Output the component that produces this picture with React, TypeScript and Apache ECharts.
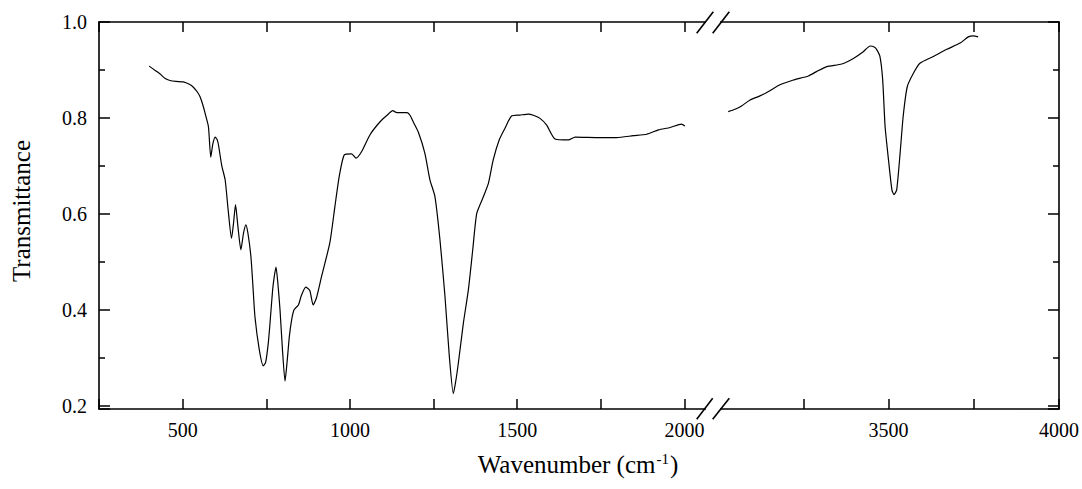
import React, { useEffect, useRef } from "react";
import * as echarts from "echarts";

// Left part of the spectrum (wavenumber, transmittance)
const LEFT_WN = [400, 420, 432, 448, 462, 480, 502, 520, 532, 545, 552, 560, 567, 577, 584, 590, 597, 603, 607, 617, 627, 636, 646, 652, 658, 665, 674, 682, 689, 695, 704, 710, 716, 729, 741, 748, 756, 762, 769, 774, 779, 784, 791, 798, 806, 812, 819, 826, 833, 846, 855, 868, 880, 890, 900, 915, 940, 955, 968, 983, 1005, 1018, 1035, 1060, 1090, 1110, 1128, 1140, 1150, 1171, 1180, 1189, 1204, 1224, 1239, 1254, 1269, 1284, 1297, 1309, 1316, 1324, 1339, 1354, 1367, 1379, 1399, 1414, 1428, 1446, 1463, 1483, 1508, 1533, 1550, 1568, 1588, 1613, 1653, 1673, 1747, 1797, 1847, 1887, 1922, 1957, 1991, 2001];
const LEFT_T = [0.908, 0.898, 0.892, 0.882, 0.878, 0.876, 0.875, 0.870, 0.864, 0.853, 0.844, 0.828, 0.81, 0.782, 0.718, 0.745, 0.76, 0.755, 0.744, 0.70, 0.671, 0.608, 0.549, 0.58, 0.619, 0.575, 0.525, 0.56, 0.577, 0.56, 0.511, 0.45, 0.386, 0.317, 0.283, 0.29, 0.331, 0.38, 0.442, 0.47, 0.489, 0.46, 0.40, 0.32, 0.251, 0.29, 0.345, 0.38, 0.40, 0.41, 0.43, 0.447, 0.44, 0.41, 0.425, 0.469, 0.54, 0.615, 0.678, 0.723, 0.725, 0.716, 0.73, 0.765, 0.792, 0.805, 0.815, 0.811, 0.811, 0.811, 0.805, 0.792, 0.771, 0.726, 0.671, 0.636, 0.546, 0.428, 0.303, 0.225, 0.25, 0.289, 0.372, 0.442, 0.525, 0.601, 0.636, 0.664, 0.712, 0.754, 0.778, 0.804, 0.806, 0.808, 0.805, 0.799, 0.785, 0.756, 0.754, 0.76, 0.759, 0.759, 0.763, 0.766, 0.775, 0.78, 0.787, 0.783];

// Right part of the spectrum
const RIGHT_WN = [3030, 3050, 3069, 3094, 3120, 3143, 3182, 3221, 3265, 3290, 3319, 3363, 3397, 3426, 3446, 3458, 3465, 3475, 3483, 3490, 3500, 3510, 3516, 3524, 3534, 3543, 3555, 3573, 3592, 3631, 3671, 3710, 3734, 3749, 3763];
const RIGHT_T = [0.813, 0.818, 0.825, 0.8375, 0.845, 0.853, 0.869, 0.879, 0.8875, 0.897, 0.907, 0.9125, 0.924, 0.938, 0.95, 0.948, 0.943, 0.928, 0.879, 0.782, 0.7125, 0.65, 0.64, 0.65, 0.726, 0.803, 0.865, 0.893, 0.914, 0.928, 0.943, 0.956, 0.969, 0.971, 0.969];

const LEFT_TICK_LABELS = [500, 1000, 1500, 2000];
const RIGHT_TICK_LABELS = [3500, 4000];
const Y_TICK_LABELS = [0.2, 0.4, 0.6, 0.8, 1.0];

const FONT = "Liberation Serif, Times New Roman, serif";

export default function App() {
  const ref = useRef<HTMLDivElement>(null);

  useEffect(() => {
    if (!ref.current) return;
    const chart = echarts.init(ref.current, undefined, { renderer: "svg" });

    const zip = (xs: number[], ys: number[]) => xs.map((x, i) => [x, ys[i]]);

    const lineStyle = { color: "#000", width: 1.6 };
    const tickStyle = { color: "#000", width: 1.5 };

    const xBase = (gridIndex: number, min: number, max: number, labels: number[], position: "top" | "bottom") => ({
      type: "value" as const,
      gridIndex,
      position,
      min,
      max,
      interval: 250,
      axisLine: { show: true, onZero: false, lineStyle },
      axisTick: { show: true, inside: true, length: 10, lineStyle: tickStyle },
      splitLine: { show: false },
      axisLabel: {
        show: position === "bottom",
        showMinLabel: true,
        showMaxLabel: true,
        margin: 11,
        color: "#000",
        fontSize: 20,
        fontFamily: FONT,
        formatter: (v: number) => (labels.includes(v) ? String(v) : ""),
      },
    });

    const yBase = (gridIndex: number, position: "left" | "right") => ({
      type: "value" as const,
      gridIndex,
      position,
      min: 0.193,
      max: 1.0,
      splitNumber: 4,
      axisLine: { show: true, onZero: false, lineStyle },
      axisTick: { show: true, inside: true, length: 11, lineStyle: tickStyle },
      minorTick: { show: true, splitNumber: 2, length: 6, lineStyle: tickStyle },
      splitLine: { show: false },
      axisLabel: {
        show: position === "left",
        margin: 12,
        color: "#000",
        fontSize: 20,
        fontFamily: FONT,
        formatter: (v: number) => {
          const l = Y_TICK_LABELS.find((t) => Math.abs(t - v) < 1e-6);
          return l === undefined ? "" : l.toFixed(1);
        },
      },
    });

    chart.setOption({
      animation: false,
      backgroundColor: "#fff",
      textStyle: { fontFamily: FONT, color: "#000" },
      grid: [
        { left: 99, top: 22, width: 619, height: 387 },
        { left: 718, top: 22, width: 341, height: 387 },
      ],
      xAxis: [
        xBase(0, 250, 2100, LEFT_TICK_LABELS, "bottom"),
        xBase(0, 250, 2100, LEFT_TICK_LABELS, "top"),
        xBase(1, 3000, 4000, RIGHT_TICK_LABELS, "bottom"),
        xBase(1, 3000, 4000, RIGHT_TICK_LABELS, "top"),
      ],
      yAxis: [yBase(0, "left"), yBase(1, "right")],
      series: [
        {
          type: "line",
          xAxisIndex: 0,
          yAxisIndex: 0,
          data: zip(LEFT_WN, LEFT_T),
          showSymbol: false,
          smooth: 0.2,
          lineStyle: { color: "#000", width: 1.2 },
        },
        {
          type: "line",
          xAxisIndex: 2,
          yAxisIndex: 1,
          data: zip(RIGHT_WN, RIGHT_T),
          showSymbol: false,
          smooth: 0.2,
          lineStyle: { color: "#000", width: 1.2 },
        },
      ],
      graphic: [
        // gaps of the axis break
        { type: "rect", z: 50, shape: { x: 706, y: 19, width: 14, height: 16 }, style: { fill: "#fff" } },
        { type: "rect", z: 50, shape: { x: 706, y: 396, width: 14, height: 15 }, style: { fill: "#fff" } },
        // break slashes
        { type: "line", z: 51, shape: { x1: 696.7, y1: 33.3, x2: 713.3, y2: 11.7 }, style: { stroke: "#000", lineWidth: 1.6 } },
        { type: "line", z: 51, shape: { x1: 712.7, y1: 33.3, x2: 729.3, y2: 11.7 }, style: { stroke: "#000", lineWidth: 1.6 } },
        { type: "line", z: 51, shape: { x1: 696.7, y1: 419.3, x2: 712.7, y2: 398.3 }, style: { stroke: "#000", lineWidth: 1.6 } },
        { type: "line", z: 51, shape: { x1: 712.7, y1: 419.3, x2: 729.3, y2: 398.3 }, style: { stroke: "#000", lineWidth: 1.6 } },
        // axis titles
        {
          type: "text",
          x: 578,
          y: 464,
          z: 52,
          style: {
            text: "{a|Wavenumber (cm}{s|-1}{a|)}",
            textAlign: "center",
            textVerticalAlign: "middle",
            align: "center",
            verticalAlign: "middle",
            fill: "#000",
            rich: {
              a: { fontSize: 25, fontFamily: FONT, fill: "#000", color: "#000" },
              s: { fontSize: 15, fontFamily: FONT, fill: "#000", color: "#000", verticalAlign: "top", padding: [0, 1, 0, 1] },
            },
          },
        },
        {
          type: "text",
          x: 21,
          y: 211,
          z: 52,
          rotation: Math.PI / 2,
          style: {
            text: "Transmittance",
            textAlign: "center",
            textVerticalAlign: "middle",
            align: "center",
            verticalAlign: "middle",
            fill: "#000",
            stroke: "none",
            fontSize: 25,
            fontFamily: FONT,
          },
        },
      ],
    });

    return () => chart.dispose();
  }, []);

  return (
    <div
      ref={ref}
      style={{ position: "fixed", left: 0, top: 0, width: 1082, height: 489, background: "#fff" }}
    />
  );
}
